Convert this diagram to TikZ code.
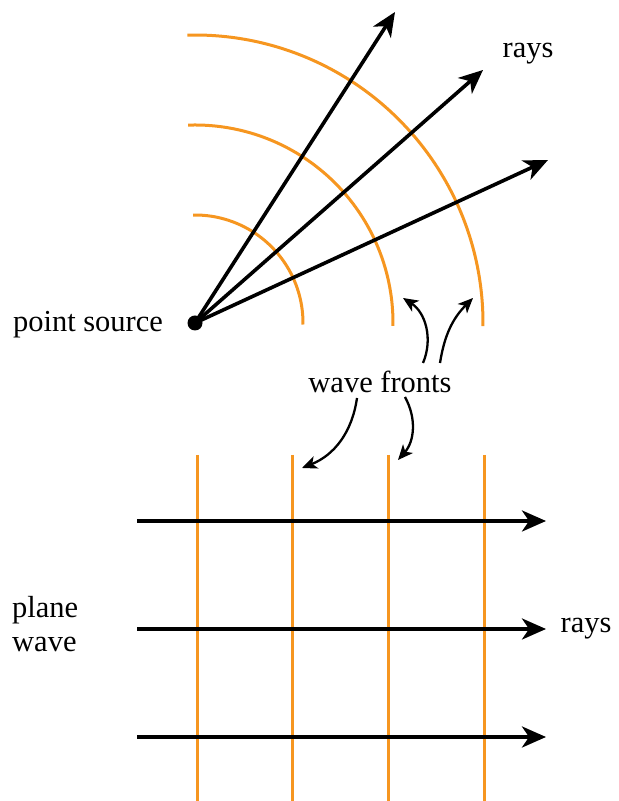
\documentclass[tikz,border=0pt]{standalone}
\usepackage{fontspec}
\setmainfont{Liberation Serif}
\usetikzlibrary{arrows.meta}
\definecolor{wavecol}{RGB}{246,150,32}
\begin{document}
\begin{tikzpicture}[x=1bp,y=1bp,
  wavefront/.style={draw=wavecol,line width=3bp},
  ray/.style={draw=black,line width=3.6bp,-{Stealth[length=24bp,width=21bp,inset=7bp]}},
  pointer/.style={draw=black,line width=2.3bp,-{Stealth[length=15bp,width=13bp,inset=4bp]}},
  lbl/.style={font=\fontsize{30.5bp}{34bp}\selectfont,inner sep=0pt}]
\useasboundingbox (0,0) rectangle (619,801);
% point source
\coordinate (src) at (195,478);
% circular wave fronts
\draw[wavefront] (src) ++(91:108) arc (91:-0.8:108);
\draw[wavefront] (src) ++(92:198) arc (92:-0.8:198);
\draw[wavefront] (src) ++(91.5:288) arc (91.5:-0.6:288);
% rays from the source
\coordinate (r1) at (395,789);
\coordinate (r2) at (483,731);
\coordinate (r3) at (548,641);
\draw[ray] (src) -- (r1);
\draw[ray] (src) -- (r2);
\draw[ray] (src) -- (r3);
\fill[black] (src) circle (7.5bp);
% plane wave fronts
\foreach \x/\n in {197/p1,292/p2,388/p3,484/p4}{
  \coordinate (\n top) at (\x,346);
  \coordinate (\n bot) at (\x,0);
  \draw[wavefront] (\n top) -- (\n bot);
}
% plane wave rays
\foreach \y/\n in {280/h1,172/h2,64/h3}{
  \coordinate (\n s) at (137,\y);
  \coordinate (\n e) at (546,\y);
  \draw[ray] (\n s) -- (\n e);
}
% labels
\node[lbl] (ps) at (88,476) {point source};
\node[lbl] (raysA) at (528,747) {rays};
\node[lbl] (raysB) at (586,172) {rays};
\node[lbl,anchor=west,align=left] (pw) at (12,177) {plane\\wave};
\node[lbl] (wf) at (380,419) {wave fronts};
% pointers from the label to the wave fronts
\coordinate (a1s) at (423,438); \coordinate (a1e) at (403,503);
\coordinate (a2s) at (440,438); \coordinate (a2e) at (473,503);
\coordinate (a3s) at (357,403); \coordinate (a3e) at (302,333);
\coordinate (a4s) at (405,404); \coordinate (a4e) at (398,341);
\draw[pointer] (a1s) to[bend right=40] (a1e);
\draw[pointer] (a2s) to[bend left=18] (a2e);
\draw[pointer] (a3s) to[bend left=30] (a3e);
\draw[pointer] (a4s) to[bend left=35] (a4e);
\end{tikzpicture}
\end{document}
